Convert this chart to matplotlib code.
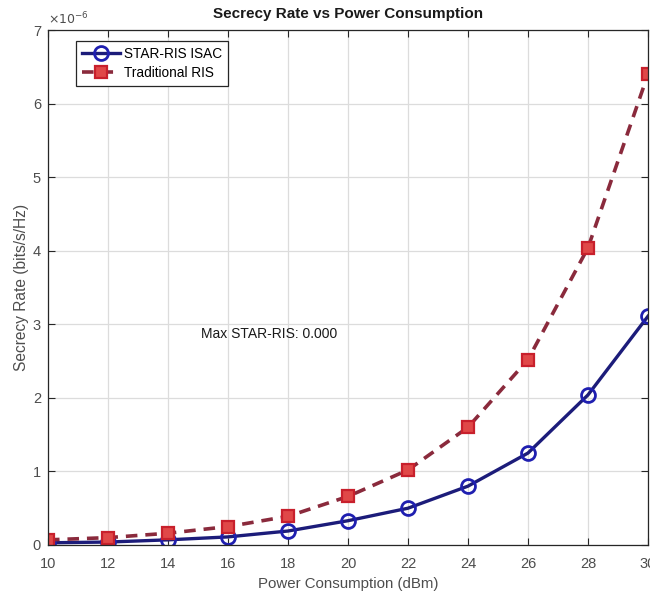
import matplotlib
matplotlib.use("Agg")
import matplotlib.pyplot as plt

# Power sweep (dBm) and secrecy rates (units of 1e-6 bits/s/Hz)
power_dbm = [10, 12, 14, 16, 18, 20, 22, 24, 26, 28, 30]
star_ris = [0.03, 0.04, 0.07, 0.11, 0.19, 0.33, 0.50, 0.80, 1.25, 2.04, 3.11]
trad_ris = [0.07, 0.10, 0.16, 0.25, 0.39, 0.66, 1.02, 1.60, 2.52, 4.04, 6.40]
x_ticks = [10, 12, 14, 16, 18, 20, 22, 24, 26, 28, 30]
y_ticks = [0, 1, 2, 3, 4, 5, 6, 7]
scale = 1e-6

plt.rcParams["font.family"] = ["Liberation Sans", "DejaVu Sans"]

fig = plt.figure(figsize=(6.5, 6.02), dpi=100)
ax = fig.add_axes([0.0738, 0.0947, 0.923, 0.855])

xs = power_dbm
y1 = [v * scale for v in star_ris]
y2 = [v * scale for v in trad_ris]

ax.plot(xs, y1, "-o", color="#1c1c7a", lw=2.4, ms=10, mfc="none", mec="#1f1fb0",
        mew=2.0, label="STAR-RIS ISAC")
ax.plot(xs, y2, "--s", color="#8a2a3c", lw=2.6, ms=8.5, mfc="#e04848", mec="#c8202c",
        mew=1.6, dashes=(3.2, 2.2), label="Traditional RIS")

ax.set_xlim(10, 30)
ax.set_ylim(0, 7 * scale)
ax.set_xticks(x_ticks)
ax.set_xticklabels([str(t) for t in x_ticks])
ax.set_yticks([t * scale for t in y_ticks])
ax.set_yticklabels([str(t) for t in y_ticks])

ax.grid(True, color="#dcdcdc", lw=0.9)
ax.set_axisbelow(True)
ax.tick_params(direction="in", top=True, right=True, length=5, width=0.8,
               labelsize=10.5, colors="#262626", labelcolor="#4d4d4d")
ax.tick_params(axis="x", pad=9)
ax.tick_params(axis="y", pad=5)
for sp in ax.spines.values():
    sp.set_color("#262626")
    sp.set_linewidth(0.9)

ax.text(0.0, 1.005, r"$\times10^{-6}$", transform=ax.transAxes, fontsize=9,
        color="#4d4d4d", ha="left", va="bottom")

ax.set_title("Secrecy Rate vs Power Consumption", fontsize=11, fontweight="bold",
             color="#1a1a1a", pad=9)
ax.set_xlabel("Power Consumption (dBm)", fontsize=10.8, color="#4d4d4d", labelpad=4)
ax.set_ylabel("Secrecy Rate (bits/s/Hz)", fontsize=11.2, color="#4d4d4d", labelpad=3)

ax.text(15.1, 2.87 * scale, "Max STAR-RIS: 0.000", fontsize=10, color="#1a1a1a",
        ha="left", va="center")

leg = ax.legend(loc="upper left", bbox_to_anchor=(0.046, 0.98), fontsize=9.8,
                frameon=True, fancybox=False, edgecolor="#262626", framealpha=1,
                borderpad=0.45, handlelength=2.8, handletextpad=0.3, labelspacing=0.4,
                borderaxespad=0.0)
leg.get_frame().set_linewidth(0.9)

fig.savefig("out.png", dpi=100)
